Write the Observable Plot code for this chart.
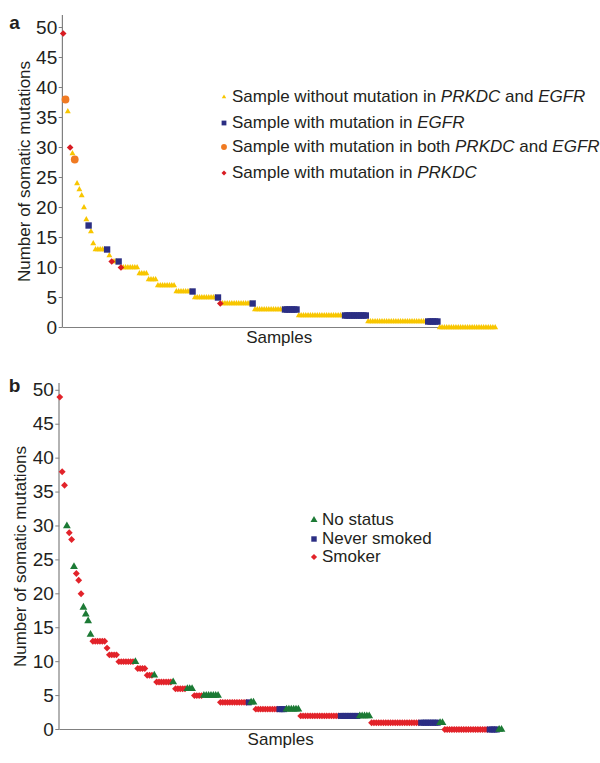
<!DOCTYPE html>
<html><head><meta charset="utf-8">
<script src="https://cdn.jsdelivr.net/npm/d3@7"></script>
<script src="https://cdn.jsdelivr.net/npm/@observablehq/plot@0.6"></script>
<style>
body{margin:0;background:#fff;font-family:"Liberation Sans",Arial,Helvetica,sans-serif;color:#231f20}
#wrap{position:relative;width:600px;height:763px;overflow:hidden}
#wrap svg{display:block}
.row{position:absolute;white-space:nowrap;display:flex;align-items:center;height:20px;font-size:17px;line-height:20px}
.row svg{position:absolute}
</style></head><body><div id="wrap"></div>
<script>
// Somatic mutation count per sample (188 samples, sorted descending)
const sampleCounts = [
 49,38,36,30,29,28,24,23,22,20,18,17,16,14,
 13,13,13,13,13,13,
 12,
 11,11,11,11,
 10,10,10,10,10,10,10,10,
 9,9,9,9,
 8,8,8,8,
 7,7,7,7,7,7,7,7,
 6,6,6,6,6,6,6,6,
 5,5,5,5,5,5,5,5,5,5,5,
 4,4,4,4,4,4,4,4,4,4,4,4,4,4,4,
 3,3,3,3,3,3,3,3,3,3,3,3,3,3,3,3,3,3,3,
 2,2,2,2,2,2,2,2,2,2,2,2,2,2,2,2,2,2,2,2,2,2,2,2,2,2,2,2,2,2,
 1,1,1,1,1,1,1,1,1,1,1,1,1,1,1,1,1,1,1,1,1,1,1,1,1,1,1,1,1,1,1,
 0,0,0,0,0,0,0,0,0,0,0,0,0,0,0,0,0,0,0,0,0,0,0,0,0
];
// Panel a status per sample: Y = neither, B = EGFR, O = both, R = PRKDC
const panelAStatus = (
 "R O Y R Y O Y Y Y Y Y B Y Y " +
 "Y Y Y Y Y B " +
 "Y " +
 "R Y Y B " +
 "R Y Y Y Y Y Y Y " +
 "Y Y Y Y " +
 "Y Y Y Y " +
 "Y Y Y Y Y Y Y Y " +
 "Y Y Y Y Y Y Y B " +
 "Y Y Y Y Y Y Y Y Y Y B " +
 "R Y Y Y Y Y Y Y Y Y Y Y Y Y B " +
 "Y Y Y Y Y Y Y Y Y Y Y Y Y B B B B B B " +
 "Y Y Y Y Y Y Y Y Y Y Y Y Y Y Y Y Y Y Y Y B B B B B B B B B B " +
 "Y Y Y Y Y Y Y Y Y Y Y Y Y Y Y Y Y Y Y Y Y Y Y Y Y Y B B B B B " +
 "Y Y Y Y Y Y Y Y Y Y Y Y Y Y Y Y Y Y Y Y Y Y Y Y Y"
).split(" ");
// Panel b status per sample: G = no status, N = never smoked, S = smoker
const panelBStatus = (
 "S S S G S S G S S S G G G G " +
 "S S S S S S " +
 "S " +
 "S S S S " +
 "S S S S S S S G " +
 "S S S S " +
 "S S S G " +
 "S S S S S S S G " +
 "S S S S S G G G " +
 "S S S S G G G G G G G " +
 "S S S S S S S S S S S S N G G " +
 "S S S S S S S S S S N N N G G G G G G " +
 "S S S S S S S S S S S S S S S S S N N N N N N N N G G G G G " +
 "S S S S S S S S S S S S S S S S S S S S S N N N N N N N N G G " +
 "S S S S S S S S S S S S S S S S S S S N N N N G G"
).split(" ");
const yTicks = [0,5,10,15,20,25,30,35,40,45,50];
const yTitle = "Number of somatic mutations";
const xTitle = "Samples";
const legendA = [
  {code:"Y", html:"Sample without mutation in <i>PRKDC</i> and <i>EGFR</i>"},
  {code:"B", html:"Sample with mutation in <i>EGFR</i>"},
  {code:"O", html:"Sample with mutation in both <i>PRKDC</i> and <i>EGFR</i>"},
  {code:"R", html:"Sample with mutation in <i>PRKDC</i>"}
];
const legendB = [
  {code:"G", html:"No status"},
  {code:"N", html:"Never smoked"},
  {code:"S", html:"Smoker"}
];

const styleA = {
  Y:{symbol:"triangle", fill:"#f8c600", r:2.2},
  B:{symbol:"square", fill:"#2b2e83", r:3.6},
  O:{symbol:"circle", fill:"#f07a22", r:3.9},
  R:{symbol:"diamond2", fill:"#d81b22", r:3.0}
};
const styleB = {
  S:{symbol:"diamond2", fill:"#e2232a", r:3.1},
  N:{symbol:"square", fill:"#2b2e83", r:3.4},
  G:{symbol:"triangle", fill:"#1c7a35", r:2.9}
};
const FONT = '"Liberation Sans", Arial, Helvetica, sans-serif';
const INK = "#231f20";
const AXIS = "#808080";

const data = sampleCounts.map((c, i) => ({i, count: c, a: panelAStatus[i], b: panelBStatus[i]}));

function panel({key, styles, order, height, marginLeft, marginRight, marginTop, marginBottom, yMax, letter, letterDy}) {
  const dots = order.map(code => Plot.dot(data.filter(d => d[key] === code), {
    x: "i", y: "count", symbol: styles[code].symbol, fill: styles[code].fill, r: styles[code].r, stroke: "none"
  }));
  return Plot.plot({
    width: 600, height, marginLeft, marginRight, marginTop, marginBottom,
    x: {domain: [0, 187], axis: null},
    y: {domain: [0, yMax], axis: null},
    style: {fontFamily: FONT, color: INK, background: "transparent", overflow: "visible"},
    marks: [
      Plot.axisY(yTicks, {tickSize: 4, tickPadding: 2, fontSize: 19, label: null, stroke: AXIS, fill: INK}),
      Plot.ruleX([0], {dx: -0.8, stroke: AXIS, strokeWidth: 1.2}),
      Plot.ruleY([0], {stroke: AXIS, strokeWidth: 1.2}),
      ...dots,
      Plot.text([yTitle], {frameAnchor: "left", textAnchor: "middle", lineAnchor: "middle", rotate: -90, dx: -39, fontSize: 17, fill: INK}),
      Plot.text([xTitle], {frameAnchor: "bottom", textAnchor: "middle", dy: 15, fontSize: 17, fill: INK}),
      Plot.text([letter], {frameAnchor: "top-left", textAnchor: "middle", lineAnchor: "middle", dx: -marginLeft + 14, dy: letterDy, fontSize: 19, fontWeight: "bold", fill: INK})
    ]
  });
}

const wrap = document.getElementById("wrap");
wrap.appendChild(panel({key: "a", styles: styleA, order: ["Y", "B", "O", "R"], height: 360,
  marginLeft: 62.7, marginRight: 105.3, marginTop: 15, marginBottom: 33, yMax: 52, letter: "a", letterDy: 7}));
wrap.appendChild(panel({key: "b", styles: styleB, order: ["S", "N", "G"], height: 403,
  marginLeft: 59.3, marginRight: 99, marginTop: 23, marginBottom: 34, yMax: 51, letter: "b", letterDy: 2}));

function symbolSvg(st, scale) {
  const sym = {triangle: d3.symbolTriangle, square: d3.symbolSquare, circle: d3.symbolCircle, diamond2: d3.symbolDiamond2}[st.symbol];
  const r = st.r * scale;
  const path = d3.symbol(sym, Math.PI * r * r)();
  return `<svg width="12" height="12" viewBox="-6 -6 12 12" style="left:-14px;top:4px"><path d="${path}" fill="${st.fill}"/></svg>`;
}
function legend(items, styles, left, tops, scale) {
  items.forEach((it, k) => {
    const row = document.createElement("div");
    row.className = "row";
    row.style.left = left + "px";
    row.style.top = (tops[k] - 10) + "px";
    row.innerHTML = symbolSvg(styles[it.code], scale) + `<span>${it.html}</span>`;
    wrap.appendChild(row);
  });
}
legend(legendA, styleA, 232, [97.3, 122.7, 147.3, 172.7], 0.75);
legend(legendB, styleB, 322, [520, 539.3, 557.3], 0.9);
</script></body></html>
